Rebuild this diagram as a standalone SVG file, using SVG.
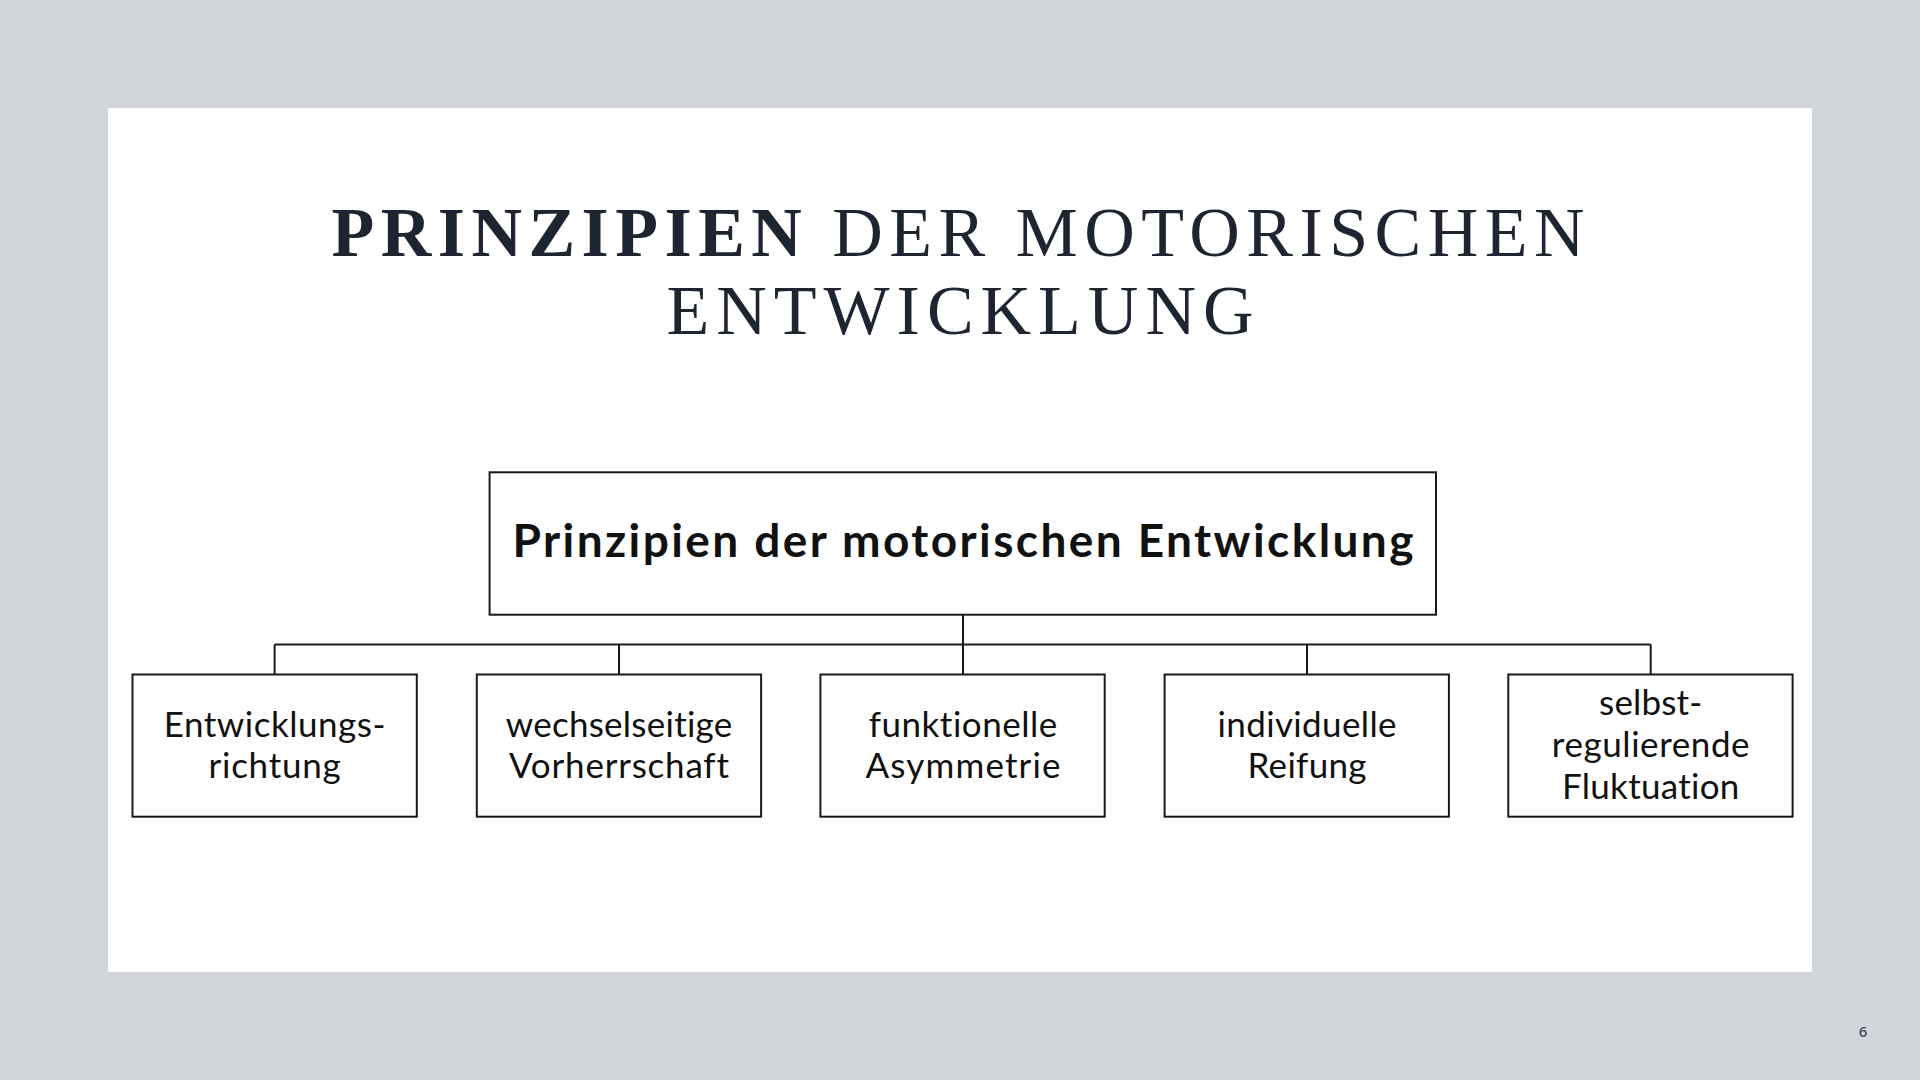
<svg xmlns="http://www.w3.org/2000/svg" width="1920" height="1080" viewBox="0 0 1920 1080">
  <style>
    .bg { fill: #d2d6db; }
    .panel { fill: #ffffff; }
    .title { font-family: "Liberation Serif", "DejaVu Serif", serif; font-size: 70px; fill: #1e2430; text-anchor: middle; }
    .box { fill: #ffffff; stroke: #1a1a1a; stroke-width: 2; }
    .main { font-family: Lato, "Open Sans", sans-serif; font-weight: bold; font-size: 46px; fill: #111111; text-anchor: middle; font-variant-ligatures: none; }
    .lbl { font-family: Lato, "Open Sans", sans-serif; font-size: 35px; fill: #111111; text-anchor: middle; font-variant-ligatures: none; }
    .conn { fill: none; stroke: #1a1a1a; stroke-width: 2; }
    .pg { font-family: "Open Sans", "Liberation Sans", sans-serif; font-size: 15px; font-weight: 600; fill: #4a5263; text-anchor: middle; }
  </style>
  <rect class="bg" x="0" y="0" width="1920" height="1080"/>
  <rect class="panel" x="108" y="108" width="1704" height="864"/>

  <g id="title">
    <text class="title" x="958" y="256" textLength="1253" lengthAdjust="spacing"><tspan font-weight="bold">PRINZIPIEN</tspan> DER MOTORISCHEN</text>
    <text class="title" x="960" y="334" textLength="587" lengthAdjust="spacing">ENTWICKLUNG</text>
  </g>

  <g id="connectors">
    <path class="conn" d="M963,615 V644.5 M274.6,644.5 H1650.7 M274.6,644.5 V675 M619,644.5 V675 M963,644.5 V675 M1307,644.5 V675 M1650.7,644.5 V675"/>
  </g>

  <g id="node-root">
    <rect class="box" x="489.6" y="472.3" width="946.4" height="142.4"/>
    <text class="main" x="963" y="557" textLength="901" lengthAdjust="spacing">Prinzipien der motorischen Entwicklung</text>
  </g>

  <g id="node-1">
    <rect class="box" x="132.5" y="674.5" width="284.3" height="142.2"/>
    <text class="lbl" x="274.6" y="736.5" textLength="221.6" lengthAdjust="spacing">Entwicklungs-</text>
    <text class="lbl" x="274.6" y="777.5" textLength="132" lengthAdjust="spacing">richtung</text>
  </g>

  <g id="node-2">
    <rect class="box" x="476.8" y="674.5" width="284.3" height="142.2"/>
    <text class="lbl" x="619" y="736.5" textLength="226.5" lengthAdjust="spacing">wechselseitige</text>
    <text class="lbl" x="619" y="777.5" textLength="220" lengthAdjust="spacing">Vorherrschaft</text>
  </g>

  <g id="node-3">
    <rect class="box" x="820.4" y="674.5" width="284.3" height="142.2"/>
    <text class="lbl" x="963" y="736.5" textLength="188.6" lengthAdjust="spacing">funktionelle</text>
    <text class="lbl" x="963" y="777.5" textLength="195" lengthAdjust="spacing">Asymmetrie</text>
  </g>

  <g id="node-4">
    <rect class="box" x="1164.6" y="674.5" width="284.3" height="142.2"/>
    <text class="lbl" x="1307" y="736.5" textLength="179" lengthAdjust="spacing">individuelle</text>
    <text class="lbl" x="1307" y="777.5" textLength="119" lengthAdjust="spacing">Reifung</text>
  </g>

  <g id="node-5">
    <rect class="box" x="1508.3" y="674.5" width="284.3" height="142.2"/>
    <text class="lbl" x="1650.7" y="715" textLength="103.3" lengthAdjust="spacing">selbst-</text>
    <text class="lbl" x="1650.7" y="757" textLength="197.7" lengthAdjust="spacing">regulierende</text>
    <text class="lbl" x="1650.7" y="799" textLength="177.3" lengthAdjust="spacing">Fluktuation</text>
  </g>

  <text class="pg" x="1863" y="1037">6</text>
</svg>
